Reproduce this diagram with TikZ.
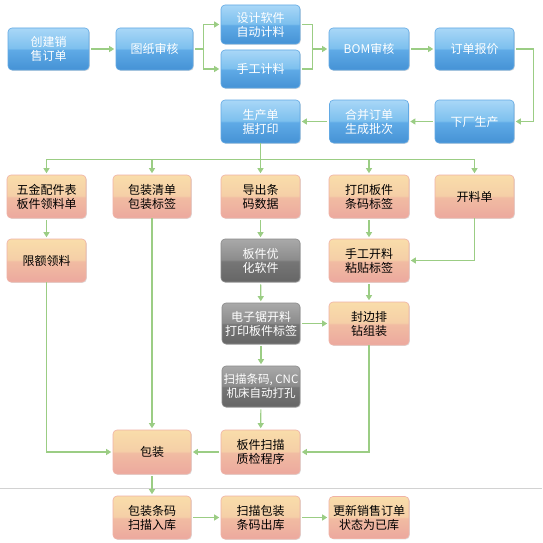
\documentclass[tikz,border=0pt]{standalone}
\usepackage{fontspec}
\newfontfamily\cjk{Noto Sans CJK SC}
\usetikzlibrary{arrows.meta,shadows,calc}
\definecolor{bT}{HTML}{A9D7F7}
\definecolor{bM1}{HTML}{7DC0EE}
\definecolor{bM2}{HTML}{5FAAE6}
\definecolor{bB}{HTML}{4592D5}
\definecolor{bD}{HTML}{62A9E4}
\definecolor{oT}{HTML}{F9DDAA}
\definecolor{oM1}{HTML}{F5CFA7}
\definecolor{oM2}{HTML}{F1BCA2}
\definecolor{oB}{HTML}{ECA89E}
\definecolor{oD}{HTML}{F0B2A6}
\definecolor{gT}{HTML}{A9A9A9}
\definecolor{gM1}{HTML}{8C8C8C}
\definecolor{gM2}{HTML}{767676}
\definecolor{gB}{HTML}{666666}
\definecolor{gD}{HTML}{8A8A8A}
\definecolor{gr}{HTML}{9BCD84}
\definecolor{sepc}{HTML}{D2D2D2}
\pgfdeclareverticalshading{blueg}{100bp}{color(0bp)=(bB);color(25bp)=(bB);color(49bp)=(bM2);color(51bp)=(bM1);color(75bp)=(bT);color(100bp)=(bT)}
\pgfdeclareverticalshading{orangeg}{100bp}{color(0bp)=(oB);color(25bp)=(oB);color(49bp)=(oM2);color(51bp)=(oM1);color(75bp)=(oT);color(100bp)=(oT)}
\pgfdeclareverticalshading{grayg}{100bp}{color(0bp)=(gB);color(25bp)=(gB);color(49bp)=(gM2);color(51bp)=(gM1);color(75bp)=(gT);color(100bp)=(gT)}
\tikzset{
  box/.style={rounded corners=4pt, minimum width=79pt, minimum height=42pt,
    inner sep=0pt, align=center, line width=0.6pt,
    font=\cjk\fontsize{12}{14}\selectfont,
    drop shadow={shadow xshift=0.8pt,shadow yshift=-0.8pt,fill=black!25,opacity=0.5}},
  bluebox/.style={box, shading=blueg, draw=bD, text=white},
  orangebox/.style={box, shading=orangeg, draw=oD, text=black},
  graybox/.style={box, shading=grayg, draw=gD, text=white},
  link/.style={draw=gr, line width=1.1pt},
  arr/.style={link, -{Triangle[width=6pt,length=5pt]}, shorten >=1.5pt},
  gap/.style={shorten <=2pt},
  sepline/.style={draw=sepc, line width=0.8pt}
}
\begin{document}
\begin{tikzpicture}[x=1pt,y=-1pt]
\fill[white] (0,0) rectangle (542,543);
\useasboundingbox (0,0) rectangle (542,543);
% blue process boxes
\node[bluebox, minimum width=81pt] (cj) at (48.5,49) {创建销\\售订单};
\node[bluebox, minimum width=77pt] (tz) at (154.5,49) {图纸审核};
\node[bluebox, minimum height=39pt] (sj) at (260.5,24.5) {设计软件\\自动计料};
\node[bluebox, minimum height=38pt] (sg) at (260.5,69) {手工计料};
\node[bluebox, minimum width=80pt] (bom) at (369,49) {BOM审核};
\node[bluebox] (bj) at (474.5,49) {订单报价};
\node[bluebox, minimum height=43pt] (xc) at (474.5,121.5) {下厂生产};
\node[bluebox, minimum height=43pt] (hb) at (369,121.5) {合并订单\\生成批次};
\node[bluebox, minimum height=43pt] (sc) at (260.5,121.5) {生产单\\据打印};
% orange / gray boxes
\node[orangebox, minimum height=43pt] (wj) at (46.5,196.5) {五金配件表\\板件领料单};
\node[orangebox, minimum width=78pt, minimum height=43pt] (bz) at (152,196.5) {包装清单\\包装标签};
\node[orangebox, minimum height=43pt] (dc) at (260.5,196.5) {导出条\\码数据};
\node[orangebox, minimum width=80pt, minimum height=43pt] (dy) at (369,196.5) {打印板件\\条码标签};
\node[orangebox, minimum height=43pt] (kl) at (474.5,196.5) {开料单};
\node[orangebox, minimum height=43pt] (xe) at (46.5,260.5) {限额领料};
\node[graybox, minimum height=43pt] (yh) at (260.5,260.5) {板件优\\化软件};
\node[orangebox, minimum width=80pt, minimum height=43pt] (sgkl) at (369,260.5) {手工开料\\粘贴标签};
\node[graybox, minimum width=78pt, minimum height=41pt] (dz) at (261,323.5) {电子锯开料\\打印板件标签};
\node[orangebox, minimum width=80pt, minimum height=43pt] (fb) at (369,323.5) {封边排\\钻组装};
\node[graybox, minimum width=78pt, minimum height=41pt, font=\cjk\fontsize{11.5}{14}\selectfont] (cnc) at (261,386.5) {扫描条码, CNC\\机床自动打孔};
\node[orangebox, minimum width=78pt, minimum height=44pt] (bzh) at (152,452) {包装};
\node[orangebox, minimum height=44pt] (zj) at (260.5,452) {板件扫描\\质检程序};
\node[orangebox, minimum width=78pt, minimum height=43pt] (rk) at (152,517.5) {包装条码\\扫描入库};
\node[orangebox, minimum height=43pt] (ck) at (260.5,517.5) {扫描包装\\条码出库};
\node[orangebox, minimum width=80pt, minimum height=42pt] (gx) at (369,517.5) {更新销售订单\\状态为已库};
% separator
\draw[sepline] (0,488) -- (542,488);
% top flow
\draw[arr,gap] (cj) -- (tz);
\draw[link,gap] (tz.east) -- ++(10,0) coordinate (s1);
\draw[arr] (s1) |- (sj.west);
\draw[arr] (s1) |- (sg.west);
\draw[link,gap] (sj.east) -- ++(12,0) coordinate (m1) -- (m1 |- sg.east) -- ($(sg.east)+(2,0)$);
\draw[arr] (m1 |- bom.west) -- (bom.west);
\draw[arr,gap] (bom) -- (bj);
\draw[arr,gap] (bj.east) -- ++(19,0) |- (xc.east);
\draw[arr,gap] (xc) -- (hb);
\draw[arr,gap] (hb) -- (sc);
% distribution bus
\draw[link] (sc.south) -- ++(0,16) coordinate (b0);
\draw[link] (wj.north |- b0) -- (kl.north |- b0);
\foreach \n in {wj,bz,dc,dy,kl} \draw[arr] (\n.north |- b0) -- (\n.north);
% middle
\draw[arr,gap] (wj) -- (xe);
\draw[arr,gap] (dc) -- (yh);
\draw[arr,gap] (dy) -- (sgkl);
\draw[arr] (kl.south) |- (sgkl.east);
\draw[arr,gap] (yh) -- (dz);
\draw[arr,gap] (sgkl) -- (fb);
\draw[arr,gap] (dz) -- (fb);
\draw[arr,gap] (dz) -- (cnc);
\draw[arr,gap] (cnc) -- (zj);
\draw[arr] (xe.south) |- (bzh.west);
\draw[arr] (bz) -- (bzh);
\draw[arr] (fb.south) |- (zj.east);
\draw[arr,gap] (zj) -- (bzh);
\draw[arr,gap] (bzh) -- (rk);
\draw[arr,gap] (rk) -- (ck);
\draw[arr,gap] (ck) -- (gx);
\end{tikzpicture}
\end{document}
